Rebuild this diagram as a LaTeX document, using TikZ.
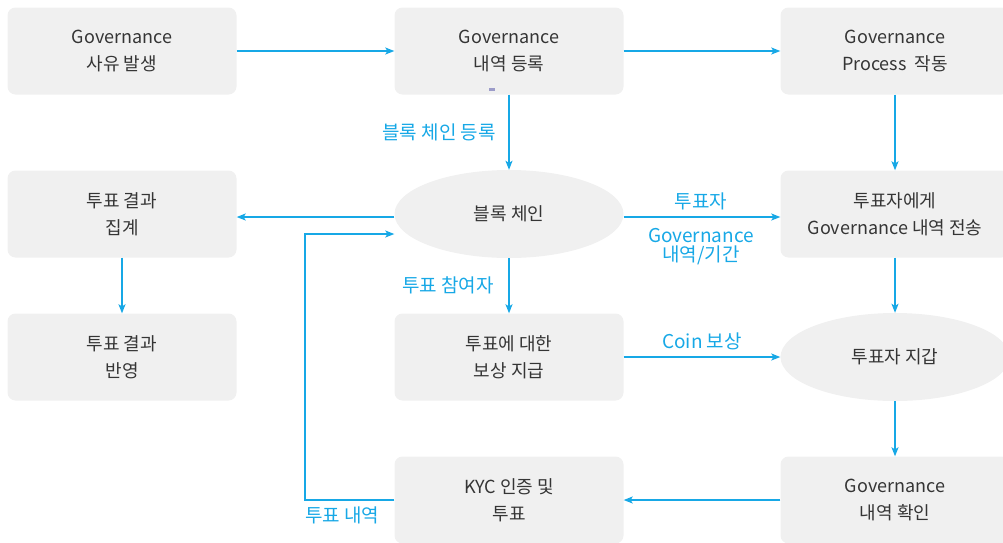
\documentclass[tikz,border=0pt]{standalone}
\usepackage{fontspec}
\setmainfont{Noto Sans CJK KR}
\usetikzlibrary{arrows.meta}
\usetikzlibrary{shapes.geometric}
\definecolor{flowblue}{HTML}{17A8E6}
\definecolor{boxgray}{HTML}{F0F0F0}
\definecolor{textgray}{HTML}{353535}
\tikzset{
%Define standard arrow tip
>={Stealth[length=9pt,width=7pt,inset=2pt]},
%Define styles for boxes, ovals, connectors and labels
box/.style={fill=boxgray, rounded corners=8pt, minimum width=229pt, minimum height=87pt,
  inner sep=0pt, align=center, text=textgray, font=\fontsize{18}{27}\selectfont},
oval/.style={ellipse, fill=boxgray, minimum width=229pt, minimum height=88pt,
  inner sep=0pt, align=center, text=textgray, font=\fontsize{18}{27}\selectfont},
flow/.style={->, draw=flowblue, line width=1.3pt},
note/.style={text=flowblue, inner sep=0pt, align=center, font=\fontsize{19}{19}\selectfont},
}

\begin{document}
\begin{tikzpicture}[x=1pt,y=-1pt]

% frame of the picture
\clip (0,0) rectangle (1003,542);

% first row
\node[box] (cause) at (122,51) {Governance\\사유 발생};
\node[box] (record) at (509,51) {Governance\\내역 등록};
\node[box] (process) at (895,51) {Governance\\Process\ \ 작동};
\fill[gray!70!blue!60] (489,88) rectangle (495,91);

% second row
\node[box] (tally) at (122,214) {투표 결과\\집계};
\node[oval] (chain) at (509,214) {블록 체인};
\node[box] (send) at (895,214) {투표자에게\\Governance 내역 전송};

% third row
\node[box] (apply) at (122,357) {투표 결과\\반영};
\node[box] (reward) at (509,357) {투표에 대한\\보상 지급};
\node[oval] (wallet) at (895,357) {투표자 지갑};

% fourth row
\node[box] (vote) at (509,500) {KYC 인증 및\\투표};
\node[box] (check) at (895,500) {Governance\\내역 확인};

% connectors
\draw[flow] (cause) -- (record);
\draw[flow] (record) -- (process);
\draw[flow] (record) -- (chain);
\node[note, anchor=east] (l-reg) at (496,132) {블록 체인 등록};
\draw[flow] (process) -- (send);

\draw[flow] ([yshift=-3pt]chain.west) -- ([yshift=-3pt]tally.east);
\draw[flow] ([yshift=-3pt]chain.east) -- ([yshift=-3pt]send.west);
\node[note, anchor=south] (l-voter) at (701,210) {투표자};
\node[note, anchor=north] (l-info) at (701,228) {Governance\\내역/기간};

\draw[flow] (tally) -- (apply);
\draw[flow] (chain) -- (reward);
\node[note, anchor=east] (l-part) at (494,285) {투표 참여자};
\draw[flow] (send) -- (wallet);

\draw[flow] (reward) -- (wallet);
\node[note, anchor=south] (l-coin) at (702,350) {Coin 보상};
\draw[flow] (wallet) -- (check);
\draw[flow] (check) -- (vote);

% return of the votes to the block chain
\coordinate (turn) at (305,500);
\draw[flow] (vote.west) -- (turn) |- ([yshift=-20pt]chain.west);
\node[note, anchor=north west] (l-votes) at (305,507) {투표 내역};

\end{tikzpicture}
\end{document}
